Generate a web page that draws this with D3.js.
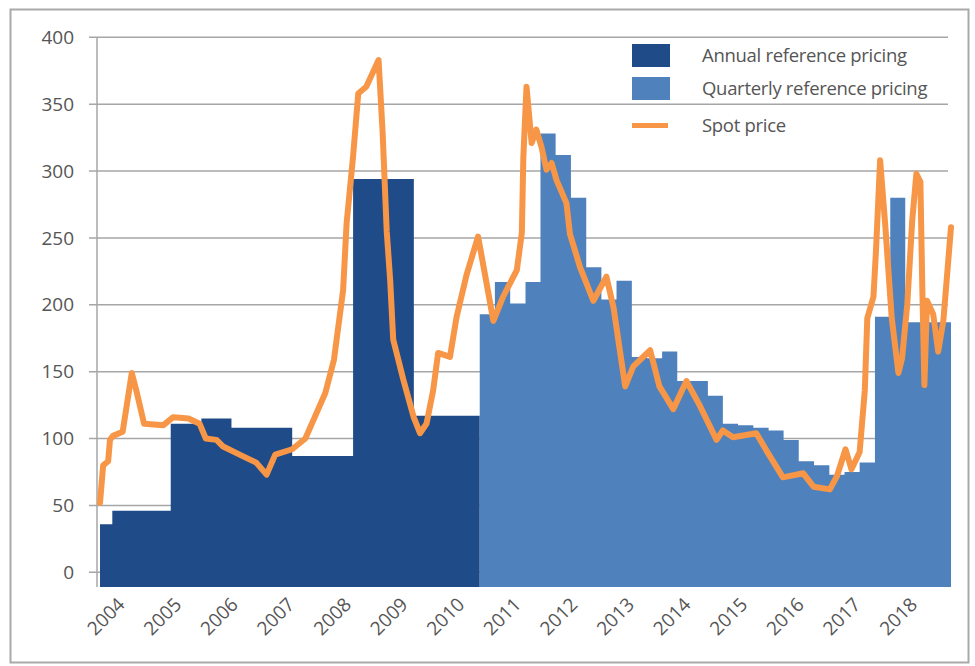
<!DOCTYPE html>
<html>
<head>
<meta charset="utf-8">
<script src="https://cdn.jsdelivr.net/npm/d3@7"></script>
<style>
  body { margin: 0; background: #ffffff; }
  text { font-family: "Open Sans", "Noto Sans", sans-serif; }
</style>
</head>
<body>
<svg id="chart" width="975" height="666"></svg>
<script>
// ---- data ----
const yearLabels = ["2004","2005","2006","2007","2008","2009","2010","2011",
                    "2012","2013","2014","2015","2016","2017","2018"];
const yTicks = [0, 50, 100, 150, 200, 250, 300, 350, 400];

// annual benchmark: start date of each price period and its level
const annualStart = ["2004-01-01","2004-03-15","2005-03-01","2005-09-01",
                     "2006-03-01","2007-03-01","2008-03-01","2009-03-01"];
const annualPrice = [36, 46, 111, 115, 108, 87, 294, 117];
const annualEnd = "2010-04-01";

// quarterly benchmark, Q2 2010 to Q4 2017
const quarterStart = ["2010-04-01","2010-07-01","2010-10-01",
  "2011-01-01","2011-04-01","2011-07-01","2011-10-01",
  "2012-01-01","2012-04-01","2012-07-01","2012-10-01",
  "2013-01-01","2013-04-01","2013-07-01","2013-10-01",
  "2014-01-01","2014-04-01","2014-07-01","2014-10-01",
  "2015-01-01","2015-04-01","2015-07-01","2015-10-01",
  "2016-01-01","2016-04-01","2016-07-01","2016-10-01",
  "2017-01-01","2017-04-01","2017-07-01","2017-10-01"];
const quarterPrice = [193, 217, 201,
  217, 328, 312, 280,
  228, 204, 218, 161,
  160, 165, 143, 143,
  132, 111, 110, 108,
  106, 99, 83, 80,
  73, 75, 82, 191,
  280, 187, 187, 187];
const quarterEnd = "2018-01-01";

// spot price
const spotDates = ["2004-01-01","2004-01-20","2004-02-19","2004-03-01","2004-03-19",
  "2004-05-16","2004-07-10","2004-08-10","2004-09-22","2005-01-16","2005-03-16",
  "2005-06-16","2005-08-22","2005-09-28","2005-12-01","2006-01-10","2006-04-19",
  "2006-07-28","2006-09-28","2006-11-19","2007-03-01","2007-05-19","2007-07-25",
  "2007-09-16","2007-11-07","2008-01-01","2008-01-22","2008-03-01","2008-04-01",
  "2008-05-19","2008-08-01","2008-08-25","2008-09-19","2008-10-10","2008-10-28",
  "2008-12-28","2009-02-28","2009-04-07","2009-05-16","2009-06-25","2009-07-25",
  "2009-10-04","2009-11-13","2010-01-13","2010-03-22","2010-06-22","2010-08-19",
  "2010-11-10","2010-12-10","2010-12-19","2011-01-07","2011-02-07","2011-03-07",
  "2011-04-07","2011-05-07","2011-06-07","2011-07-07","2011-09-04","2011-09-25",
  "2011-11-25","2012-02-13","2012-05-01","2012-06-13","2012-08-22","2012-10-10",
  "2013-01-19","2013-03-16","2013-06-07","2013-08-25","2013-11-16","2014-02-22",
  "2014-04-01","2014-06-01","2014-10-19","2014-12-19","2015-03-28","2015-07-28",
  "2015-09-28","2016-01-04","2016-02-16","2016-04-07","2016-05-13","2016-07-01",
  "2016-08-01","2016-08-16","2016-09-22","2016-10-07","2016-11-01","2016-12-01",
  "2017-01-10","2017-02-19","2017-03-13","2017-04-13","2017-05-13","2017-06-07",
  "2017-07-01","2017-07-13","2017-07-25","2017-08-10","2017-09-16","2017-10-16",
  "2017-11-16","2018-01-01"];
const spotPrice = [52, 80, 83, 99, 102,
  105, 149, 134, 111, 110, 116,
  115, 111, 100, 99, 94, 88,
  82, 73, 88, 92, 100, 119,
  134, 159, 211, 261, 311, 358,
  363, 383, 330, 255, 218, 174,
  144, 116, 104, 111, 136, 164,
  161, 191, 223, 251, 188, 206,
  226, 254, 310, 363, 321, 331,
  318, 301, 306, 293, 276, 253,
  228, 203, 221, 198, 139, 154,
  166, 139, 122, 143, 124, 99,
  106, 101, 104, 91, 71, 74,
  64, 62, 72, 92, 77, 90,
  136, 190, 206, 240, 308, 261,
  190, 149, 160, 200, 263, 298,
  292, 210, 140, 203, 193, 165,
  188, 258];

const seriesNames = ["Annual reference pricing", "Quarterly reference pricing", "Spot price"];
const colors = { annual: "#1f4b88", quarterly: "#4f81bd", spot: "#f79646" };

// ---- layout ----
const svg = d3.select("#chart");
const plot = { left: 100, right: 951, top: 37.3, bottom: 587 };
const parse = d3.utcParse("%Y-%m-%d");

const x = d3.scaleUtc()
  .domain([parse("2004-01-01"), parse("2018-01-01")])
  .range([plot.left, plot.right]);
const y = d3.scaleLinear()
  .domain([-11, 400])
  .range([plot.bottom, plot.top]);
const xYear = d3.scaleBand()
  .domain(yearLabels)
  .range([93, 942]);

// outer frame
svg.append("rect")
  .attr("x", 10.5).attr("y", 9.5)
  .attr("width", 958).attr("height", 653)
  .attr("fill", "#ffffff")
  .attr("stroke", "#a9a9a9").attr("stroke-width", 2);

// horizontal gridlines
svg.append("g").selectAll("line")
  .data(yTicks)
  .join("line")
  .attr("x1", 89).attr("x2", 948)
  .attr("y1", d => y(d)).attr("y2", d => y(d))
  .attr("stroke", "#a6a6a6").attr("stroke-width", 1.5);

// y axis
const yAxis = svg.append("g")
  .attr("transform", "translate(97,0)")
  .call(d3.axisLeft(y).tickValues(yTicks).tickSize(0).tickPadding(23));
yAxis.select(".domain").remove();
yAxis.append("line")
  .attr("x1", 0).attr("x2", 0)
  .attr("y1", y(400)).attr("y2", plot.bottom)
  .attr("stroke", "#a6a6a6").attr("stroke-width", 1.5);
yAxis.selectAll("text")
  .attr("fill", "#555555")
  .style("font-size", "19px");

// step areas
function stepRows(starts, values, end) {
  const rows = starts.map((s, i) => ({ date: parse(s), value: values[i] }));
  rows.push({ date: parse(end), value: values[values.length - 1] });
  return rows;
}
const area = d3.area()
  .x(d => x(d.date))
  .y0(plot.bottom)
  .y1(d => y(d.value))
  .curve(d3.curveStepAfter);

svg.append("path")
  .datum(stepRows(annualStart, annualPrice, annualEnd))
  .attr("d", area)
  .attr("fill", colors.annual);
svg.append("path")
  .datum(stepRows(quarterStart, quarterPrice, quarterEnd))
  .attr("d", area)
  .attr("fill", colors.quarterly);

// spot price line
const spotRows = spotDates.map((d, i) => ({ date: parse(d), value: spotPrice[i] }));
svg.append("path")
  .datum(spotRows)
  .attr("d", d3.line().x(d => x(d.date)).y(d => y(d.value)))
  .attr("fill", "none")
  .attr("stroke", colors.spot)
  .attr("stroke-width", 6)
  .attr("stroke-linejoin", "round")
  .attr("stroke-linecap", "round");

// year labels along the bottom
svg.append("g").selectAll("text")
  .data(yearLabels)
  .join("text")
  .attr("transform", d => `translate(${xYear(d) + xYear.bandwidth() / 2},601) rotate(-45)`)
  .attr("text-anchor", "end")
  .attr("dy", "0.35em")
  .attr("fill", "#555555")
  .style("font-size", "19px")
  .text(d => d);

// legend
const legend = svg.append("g");
const legendRows = [
  { name: seriesNames[0], kind: "box", color: colors.annual, cy: 55.5 },
  { name: seriesNames[1], kind: "box", color: colors.quarterly, cy: 88.5 },
  { name: seriesNames[2], kind: "line", color: colors.spot, cy: 125.5 }
];
legendRows.forEach(r => {
  if (r.kind === "box") {
    legend.append("rect")
      .attr("x", 632).attr("y", r.cy - 11.5)
      .attr("width", 38).attr("height", 23)
      .attr("fill", r.color);
  } else {
    legend.append("line")
      .attr("x1", 632).attr("x2", 668)
      .attr("y1", r.cy).attr("y2", r.cy)
      .attr("stroke", r.color).attr("stroke-width", 5);
  }
  legend.append("text")
    .attr("x", 702).attr("y", r.cy)
    .attr("dy", "0.35em")
    .attr("fill", "#555555")
    .style("font-size", "18.5px")
    .style("letter-spacing", "-0.3px")
    .text(r.name);
});
</script>
</body>
</html>
